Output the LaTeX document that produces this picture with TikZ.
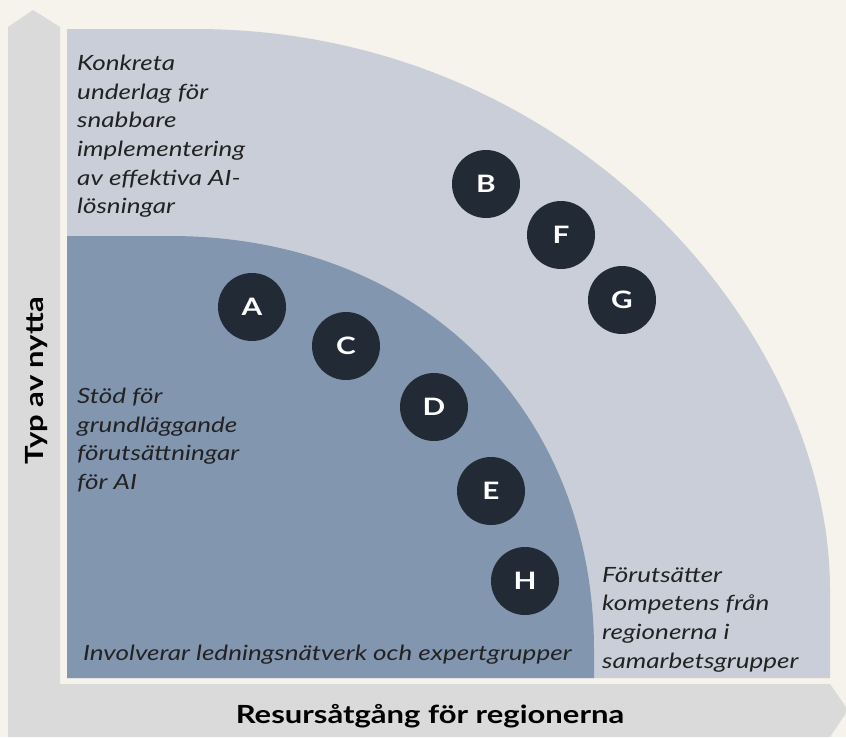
\documentclass[tikz,border=0pt]{standalone}
\usepackage{fontspec}
\setmainfont{Lato}[FakeStretch=1.24]
\definecolor{bakgrund}{HTML}{F6F2EC}
\definecolor{axelgra}{HTML}{DADADA}
\definecolor{ljusfalt}{HTML}{C9CED8}
\definecolor{morkfalt}{HTML}{8396B0}
\definecolor{prickfarg}{HTML}{222A35}
\definecolor{textfarg}{HTML}{222222}
\tikzset{
  omrade/.style={font=\itshape\fontsize{21}{28.6}\selectfont, text=textfarg,
    align=left, inner sep=0pt},
  prick/.style={circle, fill=prickfarg, minimum size=68pt, inner sep=0pt,
    text=white, font=\bfseries\fontsize{24}{24}\selectfont},
  axeltext/.style={font=\bfseries\fontsize{25}{25}\selectfont, text=black, inner sep=0pt}
}
\begin{document}
\begin{tikzpicture}[x=1pt, y=-1pt]

  % Bakgrund
  \useasboundingbox (0,0) rectangle (846,737);
  \fill[bakgrund] (0,0) rectangle (846,737);

  % Axlarna som pilar
  \fill[axelgra] (8,737) -- (8,27) -- (33,10) -- (60,27) -- (60,684)
      -- (830,684) -- (848,710) -- (830,737) -- cycle;

  % Yttre och inre falt
  \fill[ljusfalt] (67,29) -- (195,29) .. controls (570,29) and (830,330) .. (830,590)
      -- (830,678) -- (67,678) -- cycle;
  \fill[morkfalt] (67,236) -- (170,236) .. controls (420,236) and (594,410) .. (594,650)
      -- (594,678) -- (67,678) -- cycle;

  % Texter i falten
  \node[omrade, anchor=north west] (konkreta) at (77,55)
      {Konkreta\\underlag för\\snabbare\\implementering\\av effektiva AI-\\lösningar};
  \node[omrade, anchor=north west] (stod) at (77,388)
      {Stöd för\\grundläggande\\förutsättningar\\för AI};
  \node[omrade, anchor=base west] (involverar) at (83,660)
      {Involverar ledningsnätverk och expertgrupper};
  \node[omrade, anchor=north west] (forutsatter) at (602,567)
      {Förutsätter\\kompetens från\\regionerna i\\samarbetsgrupper};

  % Prickarna
  \node[prick] (A) at (252,307) {A};
  \node[prick] (C) at (346,346) {C};
  \node[prick] (D) at (434,407) {D};
  \node[prick] (E) at (491,491) {E};
  \node[prick] (H) at (525,581) {H};
  \node[prick] (B) at (486,184) {B};
  \node[prick] (F) at (561,235) {F};
  \node[prick] (G) at (622,300) {G};

  % Axeltexter
  \node[axeltext, rotate=90, anchor=base] (nytta) at (43,381) {Typ av nytta};
  \node[axeltext, anchor=base] (resurs) at (430,723) {Resursåtgång för regionerna};

\end{tikzpicture}
\end{document}
